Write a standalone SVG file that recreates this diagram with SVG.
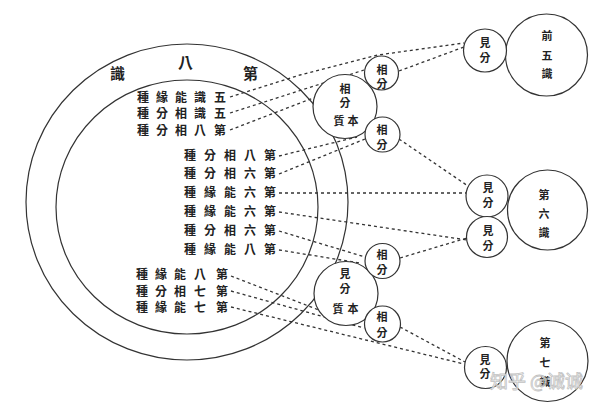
<svg xmlns="http://www.w3.org/2000/svg" width="600" height="409" viewBox="0 0 600 409">
<style>
.ring{fill:#fff;stroke:#333;stroke-width:1.2}
.c{fill:#fff;stroke:#333;stroke-width:1.2}
.t{font-family:"Noto Sans CJK TC","Noto Sans CJK JP",sans-serif;font-size:12px;font-weight:700;fill:#222}
.h{font-family:"Noto Sans CJK TC","Noto Sans CJK JP",sans-serif;font-size:15px;font-weight:700;fill:#222}
.n{font-family:"Noto Sans CJK TC","Noto Sans CJK JP",sans-serif;font-size:11px;font-weight:700;fill:#222;text-anchor:middle}
.d{fill:none;stroke:#333;stroke-width:1.3;stroke-dasharray:3 3}
.wm{font-family:"Noto Sans CJK SC",sans-serif;font-size:18px;fill:#fff;stroke:#bbb;stroke-width:0.8;opacity:0.9}
</style>
<rect width="600" height="409" fill="#fff"/>
<g id="eighth">
<ellipse class="ring" cx="187" cy="202" rx="161" ry="158"/>
<ellipse class="ring" cx="187" cy="207" rx="131" ry="127"/>
<text class="h" x="110" y="79">識</text>
<text class="h" x="178" y="68">八</text>
<text class="h" x="243" y="79">第</text>
<text class="t" x="137 156 175 194 214" y="102">種緣能識五</text>
<text class="t" x="137 156 175 194 214" y="118">種分相識五</text>
<text class="t" x="137 156 175 194 214" y="135">種分相八第</text>
<text class="t" x="184 204 224 244 264" y="160">種分相八第</text>
<text class="t" x="184 204 224 244 264" y="178">種分相六第</text>
<text class="t" x="184 204 224 244 264" y="197">種緣能六第</text>
<text class="t" x="184 204 224 244 264" y="216">種緣能六第</text>
<text class="t" x="184 204 224 244 264" y="235">種分相六第</text>
<text class="t" x="184 204 224 244 264" y="254">種緣能八第</text>
<text class="t" x="136 155 174 194 216" y="279">種緣能八第</text>
<text class="t" x="136 155 174 194 216" y="296">種分相七第</text>
<text class="t" x="136 155 174 194 216" y="312">種緣能七第</text>
</g>
<g id="connectors">
<polyline class="d" points="230,97 300,75 378,55 464,43"/>
<line class="d" x1="230" y1="113" x2="364" y2="70"/>
<line class="d" x1="230" y1="130" x2="360" y2="80"/>
<line class="d" x1="279" y1="156" x2="357" y2="137"/>
<line class="d" x1="279" y1="174" x2="365" y2="139"/>
<line class="d" x1="279" y1="193" x2="466" y2="193"/>
<line class="d" x1="279" y1="212" x2="467" y2="240"/>
<line class="d" x1="279" y1="231" x2="365" y2="257"/>
<line class="d" x1="279" y1="250" x2="360" y2="263"/>
<line class="d" x1="231" y1="276" x2="355" y2="324"/>
<line class="d" x1="231" y1="291" x2="364" y2="328"/>
<line class="d" x1="231" y1="307" x2="464" y2="364"/>
<line class="d" x1="399" y1="71" x2="464" y2="47"/>
<line class="d" x1="399" y1="139" x2="468" y2="186"/>
<line class="d" x1="400" y1="258" x2="467" y2="238"/>
<line class="d" x1="400" y1="327" x2="465" y2="362"/>
</g>
<g id="benzhi-xiang">
<circle class="c" cx="345" cy="106.5" r="32"/>
<text class="n" x="345" y="93">相</text>
<text class="n" x="345" y="107">分</text>
<text class="n" x="339" y="125">質</text>
<text class="n" x="353" y="125">本</text>
</g>
<g id="benzhi-jian">
<circle class="c" cx="346" cy="293.5" r="32"/>
<text class="n" x="345" y="278">見</text>
<text class="n" x="345" y="293">分</text>
<text class="n" x="338" y="313">質</text>
<text class="n" x="353" y="313">本</text>
</g>
<g id="xiang1">
<circle class="c" cx="381.5" cy="73" r="17"/>
<text class="n" x="382" y="74">相</text>
<text class="n" x="382" y="88">分</text>
</g>
<g id="xiang2">
<circle class="c" cx="382.5" cy="134.5" r="17.5"/>
<text class="n" x="382" y="134">相</text>
<text class="n" x="382" y="149">分</text>
</g>
<g id="xiang3">
<circle class="c" cx="382.5" cy="261" r="17.5"/>
<text class="n" x="382" y="259">相</text>
<text class="n" x="382" y="274">分</text>
</g>
<g id="xiang4">
<circle class="c" cx="382.5" cy="324" r="18"/>
<text class="n" x="382" y="321">相</text>
<text class="n" x="382" y="337">分</text>
</g>
<g id="five">
<circle class="c" cx="546.5" cy="55" r="41"/>
<text class="n" x="547" y="40">前</text>
<text class="n" x="547" y="60">五</text>
<text class="n" x="547" y="78">識</text>
</g>
<g id="five-jian">
<circle class="c" cx="485" cy="50.5" r="21.5"/>
<text class="n" x="485" y="47">見</text>
<text class="n" x="485" y="62">分</text>
</g>
<g id="sixth">
<circle class="c" cx="547.5" cy="210" r="40"/>
<text class="n" x="544" y="199">第</text>
<text class="n" x="544" y="218">六</text>
<text class="n" x="544" y="237">識</text>
</g>
<g id="sixth-jian1">
<circle class="c" cx="487" cy="196" r="21"/>
<text class="n" x="488" y="192">見</text>
<text class="n" x="488" y="207">分</text>
</g>
<g id="sixth-jian2">
<circle class="c" cx="487" cy="237" r="20.5"/>
<text class="n" x="488" y="235">見</text>
<text class="n" x="488" y="250">分</text>
</g>
<g id="seventh">
<circle class="c" cx="547.5" cy="361" r="40.5"/>
<text class="n" x="545" y="347">第</text>
<text class="n" x="545" y="367">七</text>
<text class="n" x="545" y="386">識</text>
</g>
<g id="seventh-jian">
<circle class="c" cx="485.5" cy="367.5" r="21"/>
<text class="n" x="485" y="364">見</text>
<text class="n" x="485" y="378">分</text>
</g>
<text class="wm" x="490" y="388">知乎 @诚诚</text>
</svg>
